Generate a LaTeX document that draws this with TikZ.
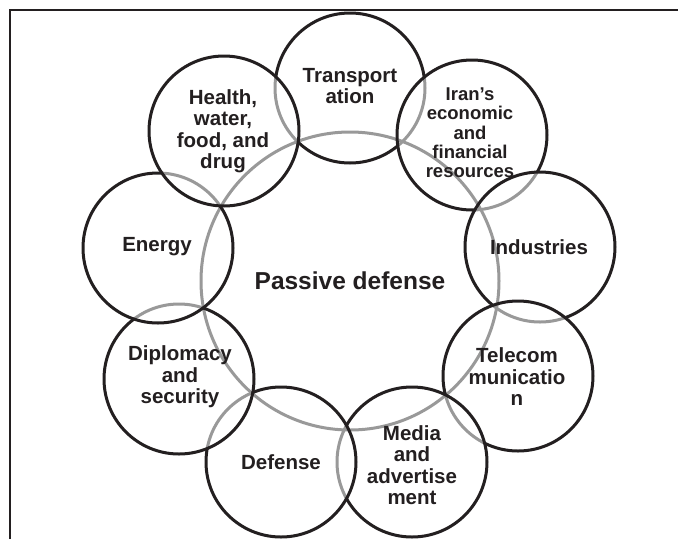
\documentclass[tikz,border=0pt]{standalone}
\usepackage{fontspec}
\setmainfont{Liberation Sans}
\definecolor{ink}{HTML}{231F20}
\definecolor{fade}{HTML}{999999}
\begin{document}
\begin{tikzpicture}[x=1pt,y=-1pt,
  ring/.style={line width=3pt, draw=ink},
  faded/.style={line width=3pt, draw=fade},
  lbl/.style={align=center, text=ink, inner sep=0pt,
    font=\fontsize{20.5}{21.5}\selectfont\bfseries},
  smalllbl/.style={align=center, text=ink, inner sep=0pt,
    font=\fontsize{18.5}{19.3}\selectfont\bfseries},
  biglbl/.style={align=center, text=ink, inner sep=0pt,
    font=\fontsize{24.5}{26}\selectfont\bfseries}]
\useasboundingbox (0,0) rectangle (678,539);
% frame (top and left only)
\coordinate (fbl) at (9.5,539);
\coordinate (ftl) at (9.5,9.5);
\coordinate (ftr) at (678,9.5);
\draw[line width=2pt, ink] (fbl) -- (ftl) -- (ftr);
% centres
\coordinate (center) at (350,281);
\coordinate (c1) at (350,88);   % Transportation
\coordinate (c2) at (472,135);  % Iran's
\coordinate (c3) at (540,247);  % Industries
\coordinate (c4) at (518,376);  % Telecom
\coordinate (c5) at (412,462);  % Media
\coordinate (c6) at (281,462);  % Defense
\coordinate (c7) at (179,379);  % Diplomacy
\coordinate (c8) at (158,248);  % Energy
\coordinate (c9) at (224,131);  % Health
\draw[faded] (center) circle[radius=149];
\foreach \i in {1,...,9}{
  \fill[white] (c\i) circle[radius=75];
  \begin{scope}
    \clip (c\i) circle[radius=75];
    \draw[faded] (center) circle[radius=149];
    \pgfmathtruncatemacro\prev{\i-1}
    \ifnum\prev>0
      \foreach \k in {1,...,\prev}{\draw[faded] (c\k) circle[radius=75];}
    \fi
  \end{scope}
  \draw[ring] (c\i) circle[radius=75];
}
% labels
\node[biglbl] (tc) at (center) {Passive defense};
\node[lbl] (t1) at (350,86) {Transport\\ation};
\node[smalllbl] (t2) at (470,133) {Iran’s\\economic\\and\\financial\\resources};
\node[lbl] (t3) at (539,247) {Industries};
\node[lbl] (t4) at (517,377) {Telecom\\municatio\\n};
\node[lbl] (t5) at (412,465) {Media\\and\\advertise\\ment};
\node[lbl] (t6) at (281,462) {Defense};
\node[lbl] (t7) at (180,377) {Diplomacy\\and\\security};
\node[lbl] (t8) at (157,247) {Energy};
\node[lbl] (t9) at (223,131) {Health,\\water,\\food, and\\drug};
\end{tikzpicture}
\end{document}
